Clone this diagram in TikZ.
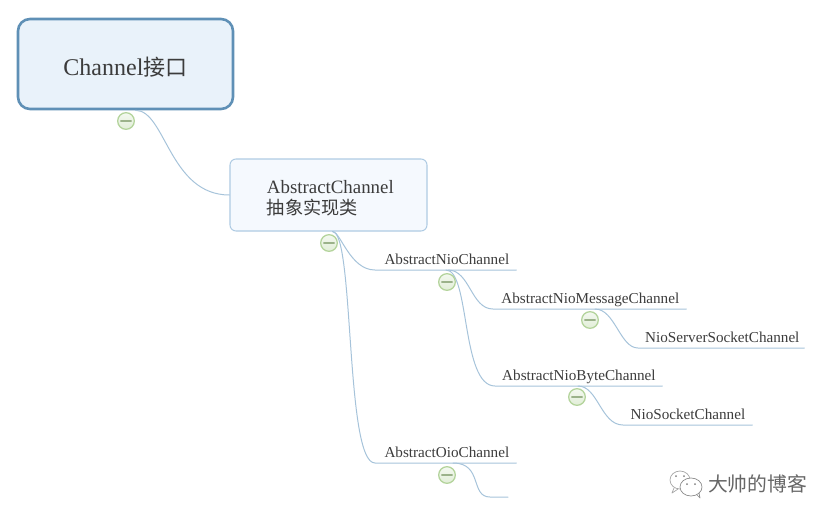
\documentclass[tikz,border=0pt]{standalone}
\usepackage{fontspec}
\setmainfont{Liberation Serif}
\newfontfamily\cjk{Noto Sans CJK SC}
\usetikzlibrary{calc,positioning}
\definecolor{linkblue}{HTML}{A6C3DA}
\definecolor{rootedge}{HTML}{5F90B6}
\definecolor{rootfill}{HTML}{E9F2FA}
\definecolor{absedge}{HTML}{AFCBE3}
\definecolor{absfill}{HTML}{F5F9FE}
\definecolor{dotedge}{HTML}{B4D49C}
\definecolor{inktext}{HTML}{3C3C3C}
\tikzset{
  rootbox/.style={draw=rootedge, fill=rootfill, line width=2.2pt, rounded corners=0.36cm, minimum width=6.45cm, minimum height=2.7cm, text=inktext, font=\fontsize{20.5pt}{24pt}\selectfont},
  absbox/.style={draw=absedge, fill=absfill, line width=0.9pt, rounded corners=0.18cm, text width=3.69cm, inner xsep=1.11cm, inner ysep=0pt, minimum height=2.16cm, align=left, text=inktext, font=\fontsize{16.1pt}{17.5pt}\selectfont},
  topic/.style={anchor=south west, align=right, inner xsep=0.21cm, inner ysep=0.17cm, text depth=0pt, text=inktext, font=\fontsize{12.95pt}{15pt}\selectfont},
  link/.style={draw=linkblue, line width=0.85pt},
  collapse/.style={circle, draw=dotedge, line width=1.1pt, top color=white!85!dotedge, bottom color=white!60!dotedge, inner sep=0pt, minimum size=0.5cm,
    path picture={\draw[dotedge!80!black!90, line width=0.9pt] ([xshift=-0.16cm]path picture bounding box.center) -- ([xshift=0.16cm]path picture bounding box.center);}},
}
\begin{document}
\begin{tikzpicture}[x=0.03cm, y=-0.03cm, line join=round, line cap=round]
  \useasboundingbox (0,0) rectangle (834,520);

  \node[rootbox] (root) at (125.5,64) {\rule{0pt}{22pt}Channel{\cjk\fontsize{18.8pt}{24pt}\selectfont 接口}};
  \node[absbox] (abs) at (328.5,195) {\rule{0pt}{17pt}\mbox{AbstractChannel}\\[0.5pt]{\cjk\fontsize{15.5pt}{17.5pt}\selectfont 抽象实现类}};

  \node[topic, text width=3.81cm] (nio) at (375,270) {AbstractNioChannel};
  \node[topic, text width=5.37cm] (msg) at (493,309) {AbstractNioMessageChannel};
  \node[topic, text width=4.59cm] (byte) at (495,386) {AbstractNioByteChannel};
  \node[topic, text width=4.56cm] (server) at (638,348) {NioServerSocketChannel};
  \node[topic, text width=3.45cm] (sock) at (623,425) {NioSocketChannel};
  \node[topic, text width=3.81cm] (oio) at (375,463) {AbstractOioChannel};
  \coordinate (oioEnd) at (490,497);
  \coordinate (oioTail) at (508,497);

  % connectors
  \draw[link] ($(root.south)+(10,0)$) .. controls +(30,0) and +(-60,0) .. (abs.west);
  \draw[link] ($(abs.south)+(4,0)$) .. controls +(8,0) and +(-25,0) .. (nio.south west) -- (nio.south east);
  \draw[link] ($(abs.south)+(4,0)$) .. controls +(22,0) and +(-30,0) .. (oio.south west) -- (oio.south east);
  \draw[link] ($(nio.south west)+(73,0)$) .. controls +(22,0) and +(-22,0) .. (msg.south west) -- (msg.south east);
  \draw[link] ($(nio.south west)+(71,0)$) .. controls +(24,0) and +(-34,0) .. (byte.south west) -- (byte.south east);
  \draw[link] ($(msg.south west)+(102,0)$) .. controls +(20,0) and +(-18,0) .. (server.south west) -- (server.south east);
  \draw[link] ($(byte.south west)+(83,0)$) .. controls +(20,0) and +(-22,0) .. (sock.south west) -- (sock.south east);
  \draw[link] ($(oio.south west)+(78,0)$) .. controls +(30,0) and +(-20,0) .. (oioEnd) -- (oioTail);

  \node[collapse] (rootDot) at (126,121) {};
  \node[collapse] (absDot) at (329,243) {};
  \node[collapse] (nioDot) at (447,282) {};
  \node[collapse] (msgDot) at (590,320) {};
  \node[collapse] (byteDot) at (577,397) {};
  \node[collapse] (oioDot) at (447,475) {};

  % watermark
  \draw[gray!70, line width=0.6pt, fill=white] (680,480) ellipse [x radius=10, y radius=9];
  \draw[gray!70, line width=0.6pt] (674,488) -- (672,493) -- (678,489);
  \draw[gray!90, line width=0.6pt, fill=white] (691,487) ellipse [x radius=11, y radius=9];
  \draw[gray!90, line width=0.6pt] (697,495) -- (700,498) -- (699,493);
  \fill[gray] (676,476) circle (1) (684,476) circle (1) (687,484) circle (1) (695,484) circle (1);
  \node[text=gray!80!black, font=\cjk\fontsize{16.9pt}{20pt}\selectfont] (mark) at (757.5,484) {大帅的博客};
\end{tikzpicture}
\end{document}
